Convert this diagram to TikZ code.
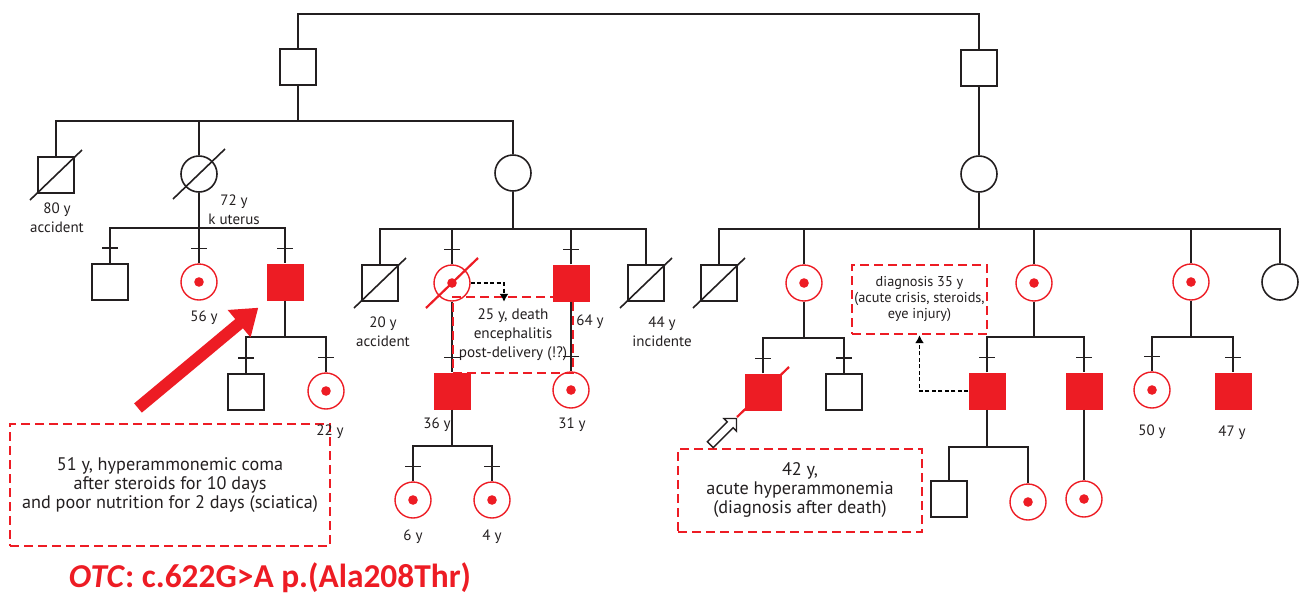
\documentclass[tikz,border=0pt]{standalone}
\usepackage{fontspec}
\setmainfont{PT Sans}
\newfontfamily\calibrifont{Carlito}
\usepackage{xcolor}
\definecolor{OtcRed}{RGB}{237, 28, 36}
\definecolor{PedInk}{RGB}{35, 31, 32}
\usetikzlibrary{shapes.arrows, arrows.meta, calc}

\begin{document}
\begin{tikzpicture}[
        x=1pt, y=-1pt,
        line/.style={draw=PedInk, line width=1.6pt},
        male/.style={rectangle, line, minimum size=36pt, inner sep=0pt},
        female/.style={circle, line, minimum size=36pt, inner sep=0pt},
        affected/.style={rectangle, fill=OtcRed, minimum size=37pt, inner sep=0pt},
        carrier/.style={circle, draw=OtcRed, line width=1.4pt, minimum size=36pt, inner sep=0pt,
            path picture={\fill[OtcRed] (path picture bounding box.center) circle (4.8pt);}},
        age/.style={font=\fontsize{15}{19}\selectfont, text=PedInk, align=center, inner sep=0pt},
        notebox/.style={rectangle, draw=OtcRed, line width=2.4pt, dash pattern=on 9pt off 5pt,
            align=center, text=PedInk, inner sep=0pt},
        darrow/.style={draw=black, line width=1.5pt, dash pattern=on 4pt off 2.5pt, -{Latex[length=8pt, width=9pt]}}
    ]
        \useasboundingbox (0,0) rectangle (1303,598);

        % Generation I
        \node[male] (f1) at (298,67) {};
        \node[male] (f2) at (979,68) {};

        % Generation II
        \node[male] (a1) at (56,175) {};
        \node[female] (a2) at (199,174) {};
        \node[female] (a3) at (513,173) {};
        \node[female] (b0) at (979,174) {};

        % Generation III, left
        \node[male] (d1) at (110,282) {};
        \node[carrier] (d2) at (199,282) {};
        \node[affected] (d3) at (285,282) {};
        \node[male] (e1) at (246,392) {};
        \node[carrier] (e2) at (326,391) {};

        % Generation III, middle
        \node[male] (c1) at (380,283) {};
        \node[carrier] (c2) at (452,283) {};
        \node[affected] (c3) at (571,283) {};
        \node[male] (c4) at (646,283) {};
        \node[affected] (g1) at (452,391) {};
        \node[carrier] (g2) at (571,390) {};
        \node[carrier] (h1) at (413,500) {};
        \node[carrier] (h2) at (492,500) {};

        % Generation III, right
        \node[male] (b1) at (719,283) {};
        \node[carrier] (b2) at (804,283) {};
        \node[carrier] (b3) at (1034,283) {};
        \node[carrier] (b4) at (1191,282) {};
        \node[female] (b5) at (1280,282) {};
        \node[affected] (k1) at (763,392) {};
        \node[male] (k2) at (844,392) {};
        \node[affected] (m1) at (987,391) {};
        \node[affected] (m2) at (1084,391) {};
        \node[male] (n1) at (949,499) {};
        \node[carrier] (n2) at (1028,502) {};
        \node[carrier] (n3) at (1084,499) {};
        \node[carrier] (p1) at (1152,390) {};
        \node[affected] (p2) at (1233,391) {};

        % Sibship bars
        \coordinate (barI) at (298,121);
        \coordinate (barA) at (199,228);
        \coordinate (barD) at (285,337);
        \coordinate (barM) at (513,229);
        \coordinate (barG) at (452,446);
        \coordinate (barR) at (979,229);
        \coordinate (barB) at (804,338);
        \coordinate (barC) at (1034,337);
        \coordinate (barE) at (987,447);
        \coordinate (barP) at (1191,337);

        % Connections
        \draw[line] (f1.north) -- ([yshift=34pt]f1.north) -| (f2.north);
        \draw[line] (f2.south) -- (b0.north);
        \draw[line] (f1.south) -- (barI);
        \draw[line] (a1.north) |- (barI) -| (a3.north);
        \draw[line] (a2.north) -- (a2.north |- barI);
        \draw[line] (a2.south) -- (barA);
        \draw[line] (d1.north) |- (barA) -| (d3.north);
        \draw[line] (d2.north) -- (barA);
        \draw[line] (d3.south) -- (barD);
        \draw[line] (e1.north) |- (barD) -| (e2.north);
        \draw[line] (a3.south) -- (barM);
        \draw[line] (c1.north) |- (barM) -| (c4.north);
        \draw[line] (c2.north) -- (c2.north |- barM);
        \draw[line] (c3.north) -- (c3.north |- barM);
        \draw[line] (c2.south) -- (g1.north);
        \draw[line] (c3.south) -- (g2.north);
        \draw[line] (g1.south) -- (barG);
        \draw[line] (h1.north) |- (barG) -| (h2.north);
        \draw[line] (b0.south) -- (barR);
        \draw[line] (b1.north) |- (barR) -| (b5.north);
        \foreach \n in {b2,b3,b4}
            \draw[line] (\n.north) -- (\n.north |- barR);
        \draw[line] (b2.south) -- (barB);
        \draw[line] (k1.north) |- (barB) -| (k2.north);
        \draw[line] (b3.south) -- (barC);
        \draw[line] (m1.north) |- (barC) -| (m2.north);
        \draw[line] (m1.south) -- (barE);
        \draw[line] (n1.north) |- (barE) -| (n2.north);
        \draw[line] (m2.south) -- (n3.north);
        \draw[line] (b4.south) -- (barP);
        \draw[line] (p1.north) |- (barP) -| (p2.north);

        % Ticks on the lines
        \foreach \n in {d1,d2,d3,e1,e2,c2,c3,g1,g2,h1,h2,k1,k2,m1,m2,p1,p2}
            \draw[line] ([xshift=-8pt, yshift=15pt]\n.north) -- ([xshift=8pt, yshift=15pt]\n.north);

        % Deceased
        \foreach \n in {a1,a2,c1,c4,b1}
            \draw[line] ([shift={(-26,25)}]\n.center) -- ([shift={(26,-25)}]\n.center);
        \foreach \n in {c2,k1}
            \draw[draw=OtcRed, line width=2.2pt] ([shift={(-26,25)}]\n.center) -- ([shift={(26,-25)}]\n.center);

        % Notes
        \node[notebox, minimum width=320pt, minimum height=122pt, font=\fontsize{18.2}{19}\selectfont] (box1) at (170,485)
            {51 y, hyperammonemic coma\\after steroids for 10 days\\and poor nutrition for 2 days (sciatica)};
        \node[notebox, minimum width=120pt, minimum height=76pt, font=\fontsize{15.2}{19}\selectfont] (box2) at (513,335)
            {25 y, death\\encephalitis\\post-delivery (!?)};
        \node[notebox, minimum width=244pt, minimum height=83pt, font=\fontsize{18.2}{19}\selectfont] (box3) at (800,490.5)
            {42 y,\\acute hyperammonemia\\(diagnosis after death)};
        \node[notebox, minimum width=135pt, minimum height=69pt, font=\fontsize{14.3}{16}\selectfont] (box4) at (919.5,299.5)
            {diagnosis 35 y\\(acute crisis, steroids,\\eye injury)};

        \draw[darrow] (c2.east) -| ([shift={(-9,6)}]box2.north);
        \draw[darrow] (m1.west) -| (box4.south);

        % Pointers to the index cases
        \coordinate (comaTail) at (138,408);
        \draw[OtcRed, line width=12pt, -{Triangle[length=25pt, width=34pt]}] (comaTail) -- ([shift={(-8,7)}]d3.south west);
        \node[single arrow, draw=PedInk, line width=1.4pt, fill=white, inner sep=3.4pt, minimum height=37pt,
            single arrow head extend=4.8pt, rotate=45] (probandArrow) at (722,433) {};

        % Ages
        \node[age] (ageA1) at (57,218) {80 y\\accident};
        \node[age] (ageA2) at (234,210) {72 y\\k uterus};
        \node[age] (ageD2) at (204,318) {56 y};
        \node[age] (ageE2) at (330,432) {22 y};
        \node[age] (ageC1) at (383,332) {20 y\\accident};
        \node[age] (ageC3) at (590,322) {64 y};
        \node[age] (ageC4) at (662,332) {44 y\\incidente};
        \node[age] (ageG1) at (437,425) {36 y};
        \node[age] (ageG2) at (572,425) {31 y};
        \node[age] (ageH1) at (413,537) {6 y};
        \node[age] (ageH2) at (492,537) {4 y};
        \node[age] (ageP1) at (1152,432) {50 y};
        \node[age] (ageP2) at (1232,433) {47 y};

        % Variant
        \node[text=OtcRed, font=\calibrifont\bfseries\fontsize{33.4}{38}\selectfont, inner sep=0pt] (variant) at (270,578)
            {\textit{OTC}: c.622G>A p.(Ala208Thr)};

    \end{tikzpicture}
\end{document}
